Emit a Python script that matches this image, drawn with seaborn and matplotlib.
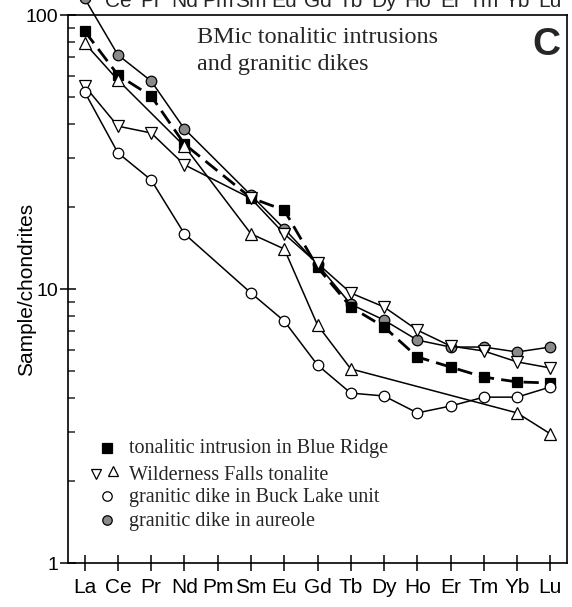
import numpy as np
import pandas as pd
import matplotlib
matplotlib.use("Agg")
import matplotlib.pyplot as plt
import matplotlib.transforms as mtransforms
from matplotlib.ticker import FixedLocator, LogLocator, NullFormatter, NullLocator
import seaborn as sns

# Chondrite-normalised REE data
elements = ["La", "Ce", "Pr", "Nd", "Pm", "Sm", "Eu", "Gd", "Tb", "Dy", "Ho", "Er", "Tm", "Yb", "Lu"]
nan = np.nan
blue_ridge = [87.4, 60.4, 50.6, 33.8, nan, 21.5, 19.4, 12.0, 8.6, 7.27, 5.65, 5.19, 4.77, 4.58, 4.54]
wilderness_down = [55.1, 39.3, 37.1, 28.4, nan, 21.4, 15.9, 12.4, 9.67, 8.6, 7.08, 6.19, 5.94, 5.42, 5.15]
wilderness_up = [79.0, 57.9, nan, 33.2, nan, 15.9, 14.0, 7.39, 5.11, nan, nan, nan, nan, 3.53, 2.96]
buck_lake = [52.4, 31.4, 25.0, 15.9, nan, 9.67, 7.64, 5.28, 4.17, 4.07, 3.53, 3.74, 4.03, 4.03, 4.39]
aureole = [115.0, 71.5, 57.4, 38.4, nan, 22.0, 16.6, 12.3, 8.8, 7.7, 6.51, 6.14, 6.14, 5.89, 6.14]

legend_labels = ["tonalitic intrusion in Blue Ridge", "Wilderness Falls tonalite",
                 "granitic dike in Buck Lake unit", "granitic dike in aureole"]
top_labels = elements[1:]

sns.set_theme(style="ticks")
plt.rcParams["font.family"] = ["Liberation Sans", "DejaVu Sans"]
SERIF = ["Liberation Serif", "DejaVu Serif"]
GRAY = "#8a8a8a"

W, H = 572, 607
fig = plt.figure(figsize=(W / 100, H / 100), dpi=100)
ax = fig.add_axes([68 / W, 1 - 563 / H, 499 / W, 548 / H])
ax.set_yscale("log")

xpos = np.arange(len(elements))


def draw(values, marker, face, ms=7.6, lw=1.1, ls="-", clip=True):
    df = pd.DataFrame({"x": xpos, "y": values}).dropna()
    sns.lineplot(data=df, x="x", y="y", ax=ax, color="black", linewidth=lw,
                 linestyle=ls, marker=marker, markersize=ms,
                 markerfacecolor=face, markeredgecolor="black",
                 markeredgewidth=0.9, errorbar=None, sort=False, clip_on=clip)


draw(aureole, "o", GRAY, clip=False)
draw(blue_ridge, "s", "black", lw=2.0, ls=(0, (5.5, 2.6)))
draw(wilderness_up, "^", "white", ms=8.2)
draw(wilderness_down, "v", "white", ms=8.2)
draw(buck_lake, "o", "white")

ax.set_xlim(-0.5, 14.5)
ax.set_ylim(1, 100)
ax.set_xticks(xpos)
ax.set_xticklabels(elements)
ax.xaxis.set_minor_locator(NullLocator())
ax.yaxis.set_major_locator(FixedLocator([1, 10, 100]))
ax.set_yticklabels(["1", "10", "100"])
ax.yaxis.set_minor_locator(LogLocator(base=10, subs=np.arange(2, 10)))
ax.yaxis.set_minor_formatter(NullFormatter())
ax.tick_params(axis="y", which="major", direction="inout", length=12, width=1.1,
               labelsize=14, pad=1, colors="black")
ax.tick_params(axis="y", which="minor", direction="in", length=5, width=1.1)
ax.tick_params(axis="x", which="major", direction="inout", length=12, width=1.1,
               labelsize=15, pad=4.5, colors="black")
ax.set_xlabel("")
ax.set_ylabel("Sample/chondrites", fontsize=15, color="black")
ax.yaxis.set_label_coords(-0.064, 0.5)
for s in ax.spines.values():
    s.set_visible(True)
    s.set_linewidth(1.2)
    s.set_color("black")

# Element labels from the panel above, cut by the top edge
tr = mtransforms.blended_transform_factory(ax.transData, fig.transFigure)
for i, lab in enumerate(top_labels, start=1):
    fig.text(i, 1 - 7 / H, lab, transform=tr, ha="center", va="baseline", fontsize=15)

# Panel title and letter
fig.text(197 / W, 1 - 43 / H, "BMic tonalitic intrusions", family=SERIF, fontsize=17.4,
         ha="left", va="baseline")
fig.text(197 / W, 1 - 70 / H, "and granitic dikes", family=SERIF, fontsize=17.4,
         ha="left", va="baseline")
fig.text(546 / W, 1 - 55 / H, "C", fontsize=28, fontweight="bold", ha="center", va="baseline")


# Legend drawn by hand
def fx(px):
    return px / W


def fy(py):
    return 1 - py / H


def key(px, py, marker, face, ms):
    fig.add_artist(plt.Line2D([fx(px)], [fy(py)], marker=marker, markersize=ms,
                              markerfacecolor=face, markeredgecolor="black",
                              markeredgewidth=0.9, linestyle="none"))


key(107, 448, "s", "black", 7.4)
key(96, 474, "v", "white", 6.5)
key(113, 471, "^", "white", 6.5)
key(107, 496, "o", "white", 6.8)
key(107, 520, "o", GRAY, 6.8)
for lab, base in zip(legend_labels, [453, 480, 502, 526]):
    fig.text(fx(129), fy(base), lab, family=SERIF, fontsize=14.5, ha="left", va="baseline")

fig.savefig("out.png", dpi=100)
